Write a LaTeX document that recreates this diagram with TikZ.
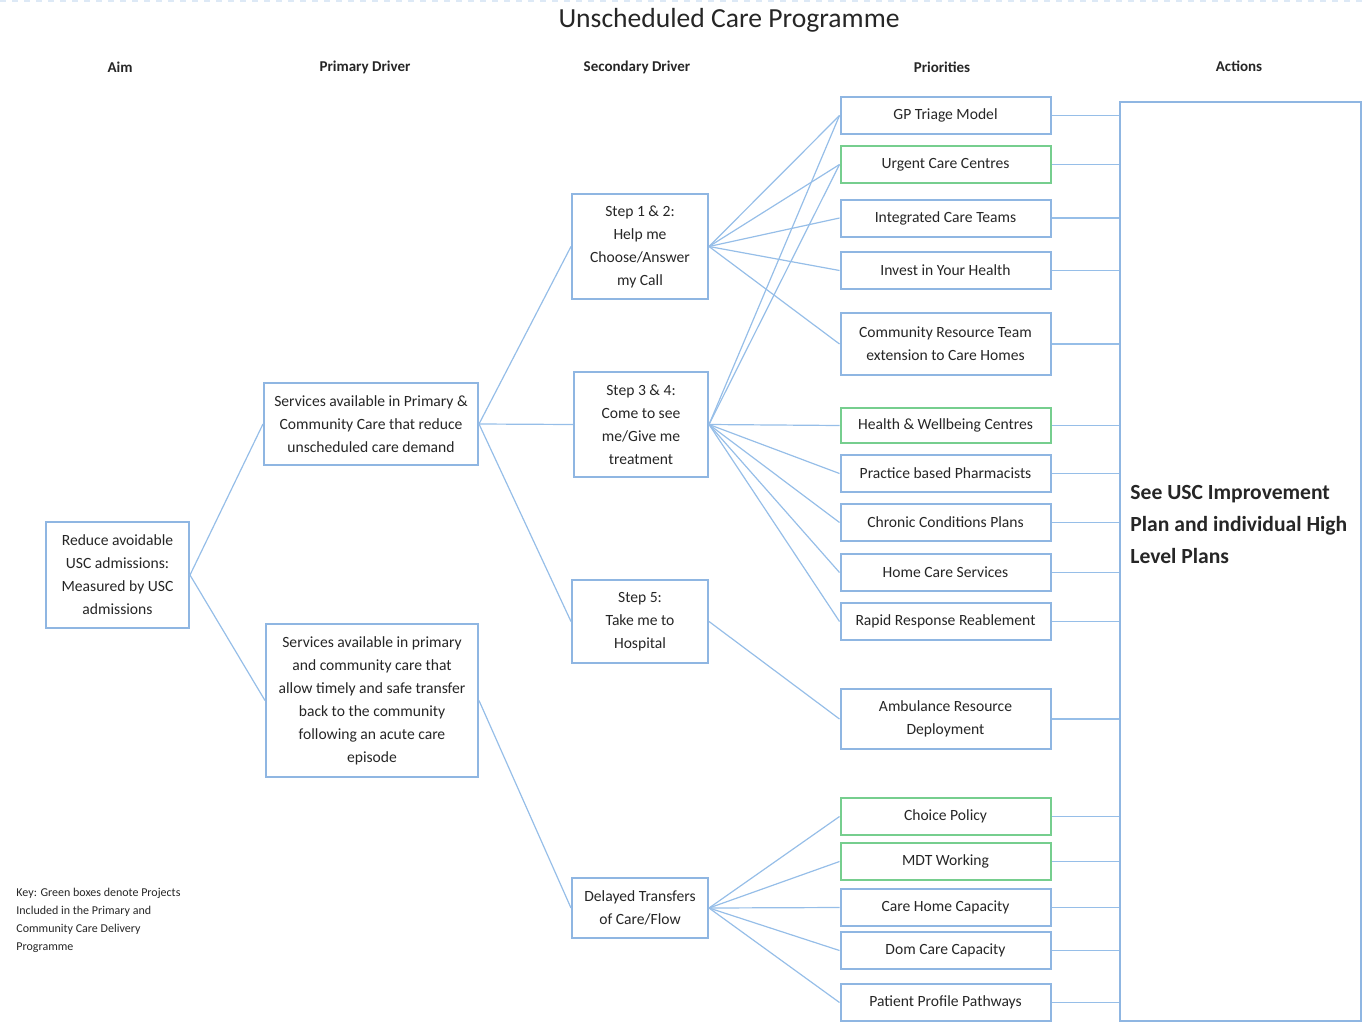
\documentclass[tikz,border=0pt]{standalone}
\usepackage{fontspec}
\setmainfont{Carlito}
\usetikzlibrary{arrows}
\definecolor{boxblue}{RGB}{143,182,226}
\definecolor{wireblue}{RGB}{150,190,232}
\definecolor{projgreen}{RGB}{118,206,142}
\definecolor{inkgrey}{RGB}{38,38,38}
\tikzstyle{cell}=[draw=boxblue, line width=1pt, align=center, inner sep=0pt,%
	text=inkgrey, font=\fontsize{7.8}{11.5}\selectfont]
\tikzstyle{prio}=[cell, minimum width=105pt, minimum height=18.5pt]
\tikzstyle{proj}=[prio, draw=projgreen]
\tikzstyle{colhead}=[text=inkgrey, font=\bfseries\fontsize{7.5}{9}\selectfont]
\tikzstyle{wire}=[draw=wireblue, line width=0.6pt]

\begin{document}
\begin{tikzpicture}[x=0.5pt, y=-0.5pt]
	\useasboundingbox (0,0) rectangle (1363,1022);
	\draw[draw=boxblue!30, dashed, line width=1pt] (0,1) -- (1363,1);
	\node[text=inkgrey, font=\fontsize{13.8}{16}\selectfont] (title) at (729,20) {Unscheduled Care Programme};
	\node[colhead] (aimhead) at (120,67) {Aim};
	\node[colhead] (primhead) at (365,67) {Primary Driver};
	\node[colhead] (sechead) at (637,67) {Secondary Driver};
	\node[colhead] (priohead) at (942,67) {Priorities};
	\node[colhead] (acthead) at (1239,66) {Actions};

	\node[cell, minimum width=71.5pt, minimum height=53pt] (aim) at (117.5,575) {Reduce avoidable\\USC admissions:\\Measured by USC\\admissions};
	\node[cell, minimum width=107pt, minimum height=41pt] (prim1) at (371,424) {Services available in Primary \&\\Community Care that reduce\\unscheduled care demand};
	\node[cell, minimum width=106pt, minimum height=76.5pt] (prim2) at (372,700.5) {Services available in primary\\and community care that\\allow timely and safe transfer\\back to the community\\following an acute care\\episode};

	\node[cell, minimum width=68pt, minimum height=52.5pt] (sec1) at (640,246.5) {Step 1 \& 2:\\Help me\\Choose/Answer\\my Call};
	\node[cell, minimum width=67pt, minimum height=52.5pt] (sec2) at (641,424.5) {Step 3 \& 4:\\Come to see\\me/Give me\\treatment};
	\node[cell, minimum width=68pt, minimum height=41.5pt] (sec3) at (640,621.5) {Step 5:\\Take me to\\Hospital};
	\node[cell, minimum width=68pt, minimum height=30pt] (sec4) at (640,908) {Delayed Transfers\\of Care/Flow};

	\node[prio] (pr1) at (945.5,115.5) {GP Triage Model};
	\node[proj] (pr2) at (945.5,164.5) {Urgent Care Centres};
	\node[prio] (pr3) at (945.5,218) {Integrated Care Teams};
	\node[prio] (pr4) at (945.5,270.5) {Invest in Your Health};
	\node[prio, minimum height=31pt] (pr5) at (945.5,344) {Community Resource Team\\extension to Care Homes};
	\node[proj, minimum height=17.5pt] (pr6) at (945.5,425.5) {Health \& Wellbeing Centres};
	\node[prio] (pr7) at (945.5,473.5) {Practice based Pharmacists};
	\node[prio] (pr8) at (945.5,522.5) {Chronic Conditions Plans};
	\node[prio] (pr9) at (945.5,572.5) {Home Care Services};
	\node[prio] (pr10) at (945.5,621.5) {Rapid Response Reablement};
	\node[prio, minimum height=30pt] (pr11) at (945.5,719) {Ambulance Resource\\Deployment};
	\node[proj] (pr12) at (945.5,816.5) {Choice Policy};
	\node[proj] (pr13) at (945.5,861.5) {MDT Working};
	\node[prio] (pr14) at (945.5,907.5) {Care Home Capacity};
	\node[prio] (pr15) at (945.5,950.5) {Dom Care Capacity};
	\node[prio] (pr16) at (945.5,1002.5) {Patient Profile Pathways};

	\node[draw=boxblue, line width=1pt, inner sep=0pt, minimum width=120.5pt, minimum height=459.5pt] (act) at (1240.5,561.5) {};
	\node[anchor=west, align=left, inner sep=0pt, text=inkgrey, font=\bfseries\fontsize{10.8}{16}\selectfont] (acttext) at (1130,524) {See USC Improvement\\Plan and individual High\\Level Plans};

	\node[anchor=west, align=left, inner sep=0pt, text=inkgrey, font=\fontsize{6}{9}\selectfont] (key) at (16,920.5) {Key: Green boxes denote Projects\\Included in the Primary and\\Community Care Delivery\\Programme};

	\path[wire] (aim.east) edge (prim1.west) edge (prim2.west);
	\path[wire] (prim1.east) edge (sec1.west) edge (sec2.west) edge (sec3.west);
	\path[wire] (prim2.east) edge (sec4.west);
	\path[wire] (sec1.east) edge (pr1.west) edge (pr2.west) edge (pr3.west) edge (pr4.west) edge (pr5.west);
	\path[wire] (sec2.east) edge (pr1.west) edge (pr2.west) edge (pr6.west) edge (pr7.west)%
		edge (pr8.west) edge (pr9.west) edge (pr10.west);
	\path[wire] (sec3.east) edge (pr11.west);
	\path[wire] (sec4.east) edge (pr12.west) edge (pr13.west) edge (pr14.west) edge (pr15.west) edge (pr16.west);
	\foreach \p in {pr1,pr2,pr3,pr4,pr5,pr6,pr7,pr8,pr9,pr10,pr11,pr12,pr13,pr14,pr15,pr16}
		\draw[wire, line width=0.8pt] (\p.east) -- (\p.east -| act.west);
\end{tikzpicture}
\end{document}
